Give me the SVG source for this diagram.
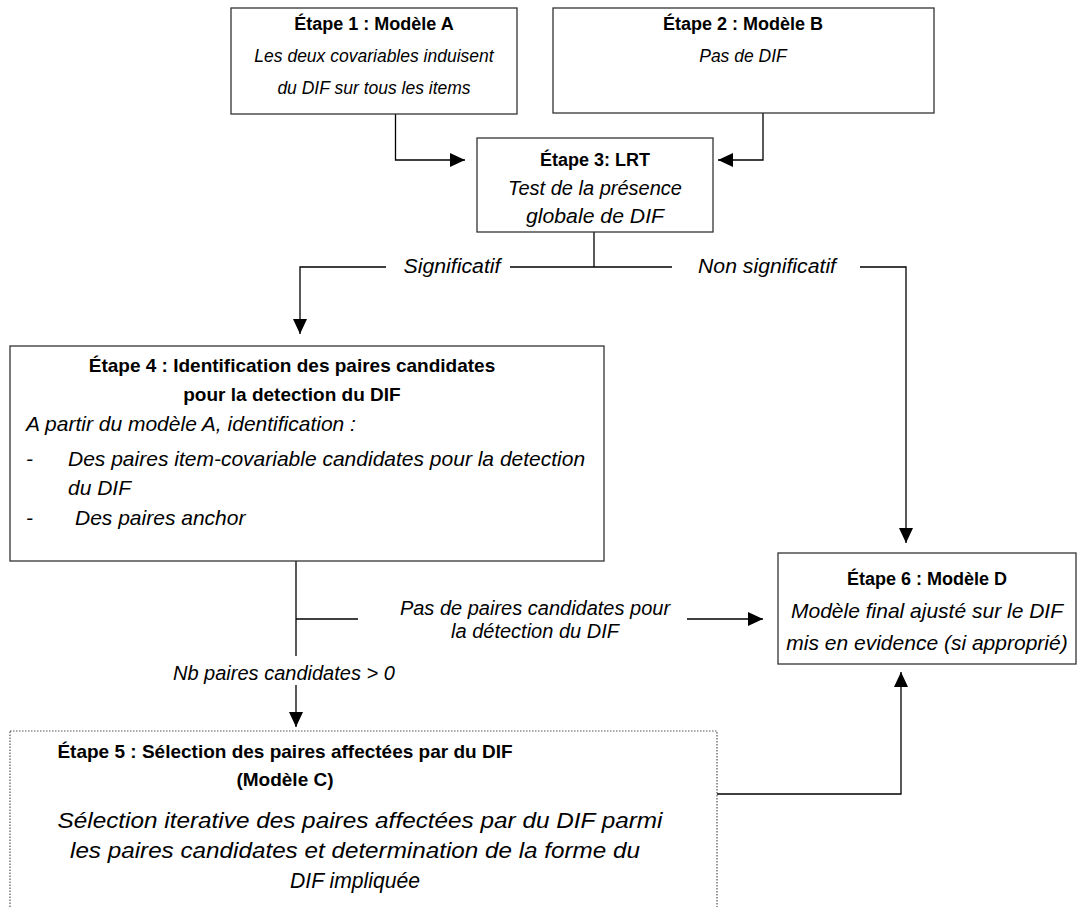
<svg xmlns="http://www.w3.org/2000/svg" width="1080" height="907" viewBox="0 0 1080 907">
<defs>
<marker id="arr" markerUnits="userSpaceOnUse" markerWidth="16" markerHeight="14" refX="15" refY="7" orient="auto"><path d="M0,0 L15,7 L0,14 z" fill="#000"/></marker>
<style>
text{font-family:"Liberation Sans",Arial,sans-serif;fill:#000}
.t{font-weight:bold;text-anchor:middle}
.i{font-style:italic}
.c{text-anchor:middle}
.s0{font-size:18px}
.s1{font-size:17.5px}
.s2{font-size:19px}
.s3{font-size:20px}
.s4{font-size:21px}
.s5{font-size:22px}
.box{fill:#fff;stroke:#333;stroke-width:1.3}
.dot{fill:#fff;stroke:#555;stroke-width:1.2;stroke-dasharray:1.5 1.5}
.ln{fill:none;stroke:#000;stroke-width:1.3}
</style>
</defs>
<rect width="1080" height="907" fill="#fff"/>
<g id="connectors">
<path class="ln" d="M395.5,114 V160 H465" marker-end="url(#arr)"/>
<path class="ln" d="M763,113 V160 H718" marker-end="url(#arr)"/>
<path class="ln" d="M594,232 V267"/>
<path class="ln" d="M510,267 H672"/>
<path class="ln" d="M386,267 H300 V334" marker-end="url(#arr)"/>
<path class="ln" d="M860,267 H906 V543" marker-end="url(#arr)"/>
<path class="ln" d="M296,561 V656"/>
<path class="ln" d="M296,619 H358"/>
<path class="ln" d="M687,619 H763" marker-end="url(#arr)"/>
<path class="ln" d="M296,685 V727" marker-end="url(#arr)"/>
<path class="ln" d="M717,794 H901 V672" marker-end="url(#arr)"/>
</g>
<g id="labels">
<text class="i c s3" x="452" y="273" textLength="97" lengthAdjust="spacingAndGlyphs">Significatif</text>
<text class="i c s3" x="767" y="273" textLength="138" lengthAdjust="spacingAndGlyphs">Non significatif</text>
<text class="i c s3" x="535" y="615">Pas de paires candidates pour</text>
<text class="i c s3" x="535" y="638">la détection du DIF</text>
<text class="i s3" x="173" y="680">Nb paires candidates &gt; 0</text>
</g>
<g id="step1">
<rect class="box" x="231" y="8" width="286" height="106"/>
<text class="t s0" x="374" y="30">Étape 1 : Modèle A</text>
<text class="i c s1" x="374" y="62">Les deux covariables induisent</text>
<text class="i c s1" x="374" y="94">du DIF sur tous les items</text>
</g>
<g id="step2">
<rect class="box" x="553" y="8" width="381" height="105"/>
<text class="t s0" x="743" y="30">Étape 2 : Modèle B</text>
<text class="i c s1" x="743" y="62">Pas de DIF</text>
</g>
<g id="step3">
<rect class="box" x="477" y="138" width="236" height="94"/>
<text class="t s0" x="595" y="166">Étape 3: LRT</text>
<text class="i c s3" x="595" y="195" textLength="174" lengthAdjust="spacingAndGlyphs">Test de la présence</text>
<text class="i c s3" x="595" y="223" textLength="138" lengthAdjust="spacingAndGlyphs">globale de DIF</text>
</g>
<g id="step4">
<rect class="box" x="10" y="346" width="594" height="215"/>
<text class="t s2" x="292" y="372">Étape 4 : Identification des paires candidates</text>
<text class="t s2" x="292" y="401">pour la detection du DIF</text>
<text class="i s4" x="26" y="431">A partir du modèle A, identification :</text>
<text class="i s4" x="26" y="466">-</text>
<text class="i s4" x="68" y="466">Des paires item-covariable candidates pour la detection</text>
<text class="i s4" x="68" y="495">du DIF</text>
<text class="i s4" x="26" y="525">-</text>
<text class="i s4" x="75" y="525">Des paires anchor</text>
</g>
<g id="step6">
<rect class="box" x="778" y="553" width="298" height="111"/>
<text class="t s0" x="927" y="585">Étape 6 : Modèle D</text>
<text class="i c s4" x="927" y="618">Modèle final ajusté sur le DIF</text>
<text class="i c s4" x="927" y="650">mis en evidence (si approprié)</text>
</g>
<g id="step5">
<rect class="dot" x="10" y="731" width="707" height="200"/>
<text class="t s2" x="285" y="758">Étape 5 : Sélection des paires affectées par du DIF</text>
<text class="t s2" x="285" y="786">(Modèle C)</text>
<text class="i c s5" x="360" y="828" textLength="605" lengthAdjust="spacingAndGlyphs">Sélection iterative des paires affectées par du DIF parmi</text>
<text class="i c s5" x="355" y="858" textLength="570" lengthAdjust="spacingAndGlyphs">les paires candidates et determination de la forme du</text>
<text class="i c s5" x="355" y="888" textLength="130" lengthAdjust="spacingAndGlyphs">DIF impliquée</text>
</g>
</svg>
